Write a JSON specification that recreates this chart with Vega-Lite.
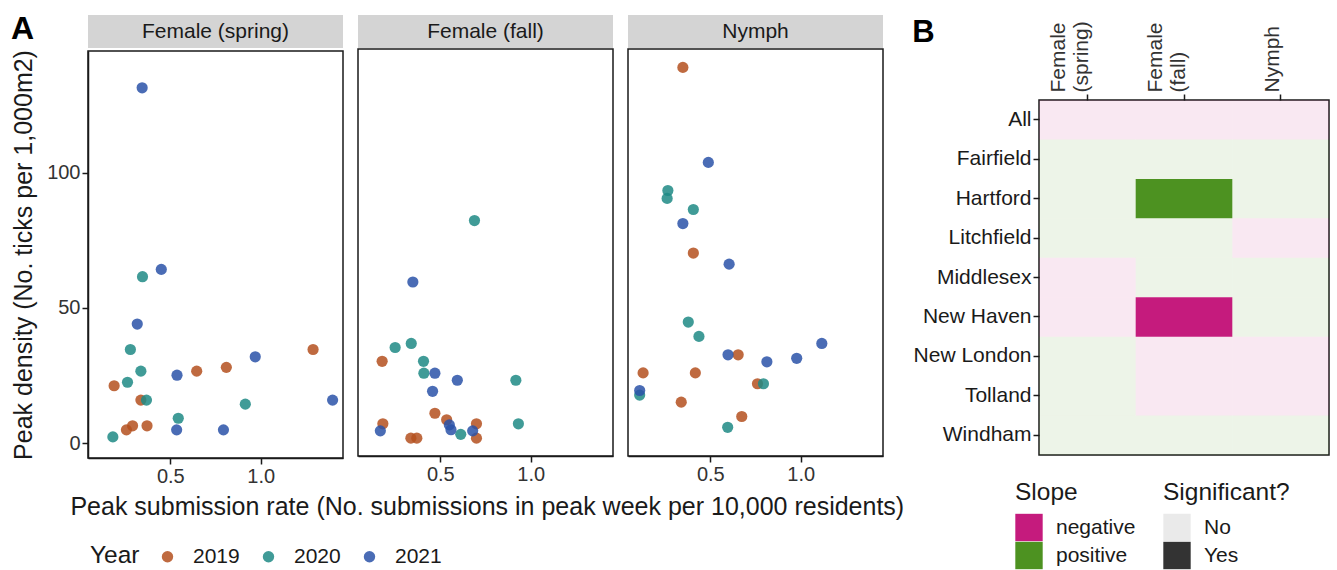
{
  "$schema": "https://vega.github.io/schema/vega-lite/v6.json",
  "background": "white",
  "padding": {"left": 10, "top": 13, "right": 4, "bottom": 0},
  "config": {
    "font": "Liberation Sans",
    "view": {"stroke": "#1a1a1a", "strokeWidth": 1.5},
    "axis": {
      "labelFont": "Liberation Sans", "labelFontSize": 20, "labelColor": "#333333",
      "titleFont": "Liberation Sans", "titleFontSize": 25, "titleFontWeight": "normal", "titleColor": "#1a1a1a",
      "domainColor": "#1a1a1a", "domainWidth": 1.5, "tickColor": "#1a1a1a", "tickWidth": 1.5, "tickSize": 6, "grid": false, "labelPadding": 2
    },
    "legend": {
      "labelFont": "Liberation Sans", "labelFontSize": 21, "labelColor": "#1a1a1a",
      "titleFont": "Liberation Sans", "titleFontSize": 24.5, "titleFontWeight": "normal", "titleColor": "#1a1a1a"
    },
    "title": {"font": "Liberation Sans", "color": "#000000"}
  },
  "datasets": {
    "pts": [
      {"stage": "Female (spring)", "year": "2019", "rate": 1.29, "density": 34.6},
      {"stage": "Female (spring)", "year": "2019", "rate": 0.81, "density": 28.0},
      {"stage": "Female (spring)", "year": "2019", "rate": 0.646, "density": 26.6},
      {"stage": "Female (spring)", "year": "2019", "rate": 0.189, "density": 21.2},
      {"stage": "Female (spring)", "year": "2019", "rate": 0.337, "density": 15.9},
      {"stage": "Female (spring)", "year": "2019", "rate": 0.291, "density": 6.4},
      {"stage": "Female (spring)", "year": "2019", "rate": 0.371, "density": 6.4},
      {"stage": "Female (spring)", "year": "2019", "rate": 0.257, "density": 4.9},
      {"stage": "Female (spring)", "year": "2020", "rate": 0.346, "density": 61.5},
      {"stage": "Female (spring)", "year": "2020", "rate": 0.279, "density": 34.6},
      {"stage": "Female (spring)", "year": "2020", "rate": 0.337, "density": 26.6},
      {"stage": "Female (spring)", "year": "2020", "rate": 0.263, "density": 22.5},
      {"stage": "Female (spring)", "year": "2020", "rate": 0.368, "density": 15.9},
      {"stage": "Female (spring)", "year": "2020", "rate": 0.915, "density": 14.4},
      {"stage": "Female (spring)", "year": "2020", "rate": 0.544, "density": 9.2},
      {"stage": "Female (spring)", "year": "2020", "rate": 0.182, "density": 2.3},
      {"stage": "Female (spring)", "year": "2021", "rate": 0.344, "density": 131.3},
      {"stage": "Female (spring)", "year": "2021", "rate": 0.45, "density": 64.2},
      {"stage": "Female (spring)", "year": "2021", "rate": 0.317, "density": 44.0},
      {"stage": "Female (spring)", "year": "2021", "rate": 0.97, "density": 31.9},
      {"stage": "Female (spring)", "year": "2021", "rate": 0.537, "density": 25.1},
      {"stage": "Female (spring)", "year": "2021", "rate": 1.398, "density": 15.9},
      {"stage": "Female (spring)", "year": "2021", "rate": 0.535, "density": 4.9},
      {"stage": "Female (spring)", "year": "2021", "rate": 0.794, "density": 4.9},
      {"stage": "Female (fall)", "year": "2019", "rate": 0.178, "density": 29.5},
      {"stage": "Female (fall)", "year": "2019", "rate": 0.47, "density": 10.3},
      {"stage": "Female (fall)", "year": "2019", "rate": 0.535, "density": 7.9},
      {"stage": "Female (fall)", "year": "2019", "rate": 0.182, "density": 6.4},
      {"stage": "Female (fall)", "year": "2019", "rate": 0.70, "density": 6.4},
      {"stage": "Female (fall)", "year": "2019", "rate": 0.337, "density": 1.1},
      {"stage": "Female (fall)", "year": "2019", "rate": 0.37, "density": 1.1},
      {"stage": "Female (fall)", "year": "2019", "rate": 0.70, "density": 1.1},
      {"stage": "Female (fall)", "year": "2020", "rate": 0.689, "density": 81.5},
      {"stage": "Female (fall)", "year": "2020", "rate": 0.339, "density": 36.1},
      {"stage": "Female (fall)", "year": "2020", "rate": 0.25, "density": 34.6},
      {"stage": "Female (fall)", "year": "2020", "rate": 0.407, "density": 29.5},
      {"stage": "Female (fall)", "year": "2020", "rate": 0.409, "density": 25.1},
      {"stage": "Female (fall)", "year": "2020", "rate": 0.918, "density": 22.5},
      {"stage": "Female (fall)", "year": "2020", "rate": 0.932, "density": 6.4},
      {"stage": "Female (fall)", "year": "2020", "rate": 0.613, "density": 2.5},
      {"stage": "Female (fall)", "year": "2021", "rate": 0.348, "density": 58.8},
      {"stage": "Female (fall)", "year": "2021", "rate": 0.47, "density": 25.1},
      {"stage": "Female (fall)", "year": "2021", "rate": 0.594, "density": 22.5},
      {"stage": "Female (fall)", "year": "2021", "rate": 0.457, "density": 18.4},
      {"stage": "Female (fall)", "year": "2021", "rate": 0.55, "density": 6.0},
      {"stage": "Female (fall)", "year": "2021", "rate": 0.559, "density": 4.2},
      {"stage": "Female (fall)", "year": "2021", "rate": 0.168, "density": 3.8},
      {"stage": "Female (fall)", "year": "2021", "rate": 0.679, "density": 3.8},
      {"stage": "Nymph", "year": "2019", "rate": 0.348, "density": 138.1},
      {"stage": "Nymph", "year": "2019", "rate": 0.406, "density": 69.5},
      {"stage": "Nymph", "year": "2019", "rate": 0.654, "density": 31.9},
      {"stage": "Nymph", "year": "2019", "rate": 0.128, "density": 25.2},
      {"stage": "Nymph", "year": "2019", "rate": 0.417, "density": 25.2},
      {"stage": "Nymph", "year": "2019", "rate": 0.761, "density": 21.2},
      {"stage": "Nymph", "year": "2019", "rate": 0.339, "density": 14.4},
      {"stage": "Nymph", "year": "2019", "rate": 0.674, "density": 9.1},
      {"stage": "Nymph", "year": "2020", "rate": 0.265, "density": 92.6},
      {"stage": "Nymph", "year": "2020", "rate": 0.261, "density": 89.7},
      {"stage": "Nymph", "year": "2020", "rate": 0.406, "density": 85.6},
      {"stage": "Nymph", "year": "2020", "rate": 0.378, "density": 44.0},
      {"stage": "Nymph", "year": "2020", "rate": 0.437, "density": 38.7},
      {"stage": "Nymph", "year": "2020", "rate": 0.794, "density": 21.2},
      {"stage": "Nymph", "year": "2020", "rate": 0.109, "density": 17.0},
      {"stage": "Nymph", "year": "2020", "rate": 0.596, "density": 5.1},
      {"stage": "Nymph", "year": "2021", "rate": 0.489, "density": 103.0},
      {"stage": "Nymph", "year": "2021", "rate": 0.348, "density": 80.4},
      {"stage": "Nymph", "year": "2021", "rate": 0.604, "density": 65.4},
      {"stage": "Nymph", "year": "2021", "rate": 1.117, "density": 36.1},
      {"stage": "Nymph", "year": "2021", "rate": 0.598, "density": 31.9},
      {"stage": "Nymph", "year": "2021", "rate": 0.978, "density": 30.6},
      {"stage": "Nymph", "year": "2021", "rate": 0.813, "density": 29.3},
      {"stage": "Nymph", "year": "2021", "rate": 0.109, "density": 18.7}
    ],
    "cells": [
      {"county": "All", "stage": "Female (spring)", "slope": "negative", "sig": "No"},
      {"county": "All", "stage": "Female (fall)", "slope": "negative", "sig": "No"},
      {"county": "All", "stage": "Nymph", "slope": "negative", "sig": "No"},
      {"county": "Fairfield", "stage": "Female (spring)", "slope": "positive", "sig": "No"},
      {"county": "Fairfield", "stage": "Female (fall)", "slope": "positive", "sig": "No"},
      {"county": "Fairfield", "stage": "Nymph", "slope": "positive", "sig": "No"},
      {"county": "Hartford", "stage": "Female (spring)", "slope": "positive", "sig": "No"},
      {"county": "Hartford", "stage": "Female (fall)", "slope": "positive", "sig": "Yes"},
      {"county": "Hartford", "stage": "Nymph", "slope": "positive", "sig": "No"},
      {"county": "Litchfield", "stage": "Female (spring)", "slope": "positive", "sig": "No"},
      {"county": "Litchfield", "stage": "Female (fall)", "slope": "positive", "sig": "No"},
      {"county": "Litchfield", "stage": "Nymph", "slope": "negative", "sig": "No"},
      {"county": "Middlesex", "stage": "Female (spring)", "slope": "negative", "sig": "No"},
      {"county": "Middlesex", "stage": "Female (fall)", "slope": "positive", "sig": "No"},
      {"county": "Middlesex", "stage": "Nymph", "slope": "positive", "sig": "No"},
      {"county": "New Haven", "stage": "Female (spring)", "slope": "negative", "sig": "No"},
      {"county": "New Haven", "stage": "Female (fall)", "slope": "negative", "sig": "Yes"},
      {"county": "New Haven", "stage": "Nymph", "slope": "positive", "sig": "No"},
      {"county": "New London", "stage": "Female (spring)", "slope": "positive", "sig": "No"},
      {"county": "New London", "stage": "Female (fall)", "slope": "negative", "sig": "No"},
      {"county": "New London", "stage": "Nymph", "slope": "negative", "sig": "No"},
      {"county": "Tolland", "stage": "Female (spring)", "slope": "positive", "sig": "No"},
      {"county": "Tolland", "stage": "Female (fall)", "slope": "negative", "sig": "No"},
      {"county": "Tolland", "stage": "Nymph", "slope": "negative", "sig": "No"},
      {"county": "Windham", "stage": "Female (spring)", "slope": "positive", "sig": "No"},
      {"county": "Windham", "stage": "Female (fall)", "slope": "positive", "sig": "No"},
      {"county": "Windham", "stage": "Nymph", "slope": "positive", "sig": "No"}
    ]
  },
  "resolve": {
    "scale": {"color": "independent", "opacity": "independent"},
    "legend": {"color": "independent", "opacity": "independent"}
  },
  "spacing": 7,
  "hconcat": [
    {
      "title": {"text": "A", "anchor": "start", "frame": "bounds", "fontSize": 32, "fontWeight": "bold", "dy": 35, "dx": 0},
      "resolve": {"scale": {"color": "shared"}, "legend": {"color": "shared"}},
      "vconcat": [
        {
          "title": {"text": "Peak submission rate (No. submissions in peak week per 10,000 residents)", "orient": "bottom", "anchor": "middle", "fontSize": 25, "fontWeight": "normal", "color": "#1a1a1a", "offset": 8, "dx": 40},
          "spacing": 13,
          "resolve": {"scale": {"color": "shared"}, "legend": {"color": "shared"}},
          "hconcat": [
            {
              "spacing": 0,
              "vconcat": [
                {
                  "width": 255, "height": 33,
                  "view": {"fill": "#D4D4D4", "stroke": null},
                  "data": {"values": [{"stage": "Female (spring)"}]},
                  "mark": {"type": "text", "fontSize": 21, "color": "#1a1a1a"},
                  "encoding": {"text": {"field": "stage"}}
                },
                {
                  "width": 255, "height": 407,
                  "data": {"name": "pts"},
                  "transform": [{"filter": "datum.stage == 'Female (spring)'"}],
                  "mark": {"type": "circle", "size": 125, "opacity": 0.85},
                  "encoding": {
                    "x": {"field": "rate", "type": "quantitative", "scale": {"domain": [0.0444, 1.4556], "nice": false, "zero": false}, "axis": {"values": [0.5, 1.0], "format": ".1f", "title": null}},
                    "y": {"field": "density", "type": "quantitative", "scale": {"domain": [-5.5, 144.9], "nice": false, "zero": false}, "axis": {"values": [0, 50, 100], "title": "Peak density (No. ticks per 1,000m2)", "titlePadding": 10}},
                    "color": {
                      "field": "year", "type": "nominal",
                      "scale": {"domain": ["2019", "2020", "2021"], "range": ["#B4501E", "#1E8A85", "#2A52A8"]},
                      "legend": {"title": "Year", "orient": "none", "direction": "horizontal", "titleOrient": "left", "titleBaseline": "middle", "legendX": 2, "legendY": 531, "symbolType": "circle", "symbolSize": 130, "symbolOpacity": 0.85, "labelOffset": 15, "columnPadding": 18, "titlePadding": 17}
                    }
                  }
                }
              ]
            },
            {
              "spacing": 0,
              "vconcat": [
                {
                  "width": 255, "height": 33,
                  "view": {"fill": "#D4D4D4", "stroke": null},
                  "data": {"values": [{"stage": "Female (fall)"}]},
                  "mark": {"type": "text", "fontSize": 21, "color": "#1a1a1a"},
                  "encoding": {"text": {"field": "stage"}}
                },
                {
                  "width": 255, "height": 407,
                  "data": {"name": "pts"},
                  "transform": [{"filter": "datum.stage == 'Female (fall)'"}],
                  "mark": {"type": "circle", "size": 125, "opacity": 0.85},
                  "encoding": {
                    "x": {"field": "rate", "type": "quantitative", "scale": {"domain": [0.0444, 1.4556], "nice": false, "zero": false}, "axis": {"values": [0.5, 1.0], "format": ".1f", "title": null}},
                    "y": {"field": "density", "type": "quantitative", "scale": {"domain": [-5.5, 144.9], "nice": false, "zero": false}, "axis": null},
                    "color": {"field": "year", "type": "nominal", "scale": {"domain": ["2019", "2020", "2021"], "range": ["#B4501E", "#1E8A85", "#2A52A8"]}}
                  }
                }
              ]
            },
            {
              "spacing": 0,
              "vconcat": [
                {
                  "width": 255, "height": 33,
                  "view": {"fill": "#D4D4D4", "stroke": null},
                  "data": {"values": [{"stage": "Nymph"}]},
                  "mark": {"type": "text", "fontSize": 21, "color": "#1a1a1a"},
                  "encoding": {"text": {"field": "stage"}}
                },
                {
                  "width": 255, "height": 407,
                  "data": {"name": "pts"},
                  "transform": [{"filter": "datum.stage == 'Nymph'"}],
                  "mark": {"type": "circle", "size": 125, "opacity": 0.85},
                  "encoding": {
                    "x": {"field": "rate", "type": "quantitative", "scale": {"domain": [0.0444, 1.4556], "nice": false, "zero": false}, "axis": {"values": [0.5, 1.0], "format": ".1f", "title": null}},
                    "y": {"field": "density", "type": "quantitative", "scale": {"domain": [-5.5, 144.9], "nice": false, "zero": false}, "axis": null},
                    "color": {"field": "year", "type": "nominal", "scale": {"domain": ["2019", "2020", "2021"], "range": ["#B4501E", "#1E8A85", "#2A52A8"]}}
                  }
                }
              ]
            }
          ]
        }
      ]
    },
    {
      "title": {"text": "B", "anchor": "start", "frame": "bounds", "fontSize": 31, "fontWeight": "bold", "dy": 38},
      "spacing": 4,
      "vconcat": [
        {
          "width": 290, "height": 1,
          "view": {"stroke": null},
          "data": {"values": []},
          "mark": {"type": "point"},
          "encoding": {}
        },
        {
          "width": 290, "height": 355,
          "data": {"name": "cells"},
          "mark": {"type": "rect"},
          "encoding": {
            "x": {
              "field": "stage", "type": "nominal", "sort": ["Female (spring)", "Female (fall)", "Nymph"],
              "axis": {
                "orient": "top", "title": null, "labelAngle": 270, "labelAlign": "left", "labelBaseline": "bottom",
                "labelExpr": "split(datum.label, ' ')", "labelFontSize": 21, "labelColor": "#333333", "domain": false, "labelLineHeight": 23,
                "labelOffset": {"condition": {"test": "datum.value == 'Nymph'", "value": 2}, "value": -18}
              }
            },
            "y": {
              "field": "county", "type": "nominal",
              "sort": ["All", "Fairfield", "Hartford", "Litchfield", "Middlesex", "New Haven", "New London", "Tolland", "Windham"],
              "axis": {"title": null, "labelFontSize": 21, "labelColor": "#1a1a1a", "domain": false}
            },
            "color": {
              "field": "slope", "type": "nominal",
              "scale": {"domain": ["negative", "positive"], "range": ["#C51B7D", "#4D9221"]},
              "legend": {"title": "Slope", "orient": "none", "legendX": -24, "legendY": 466, "symbolType": "square", "symbolSize": 750, "symbolStrokeWidth": 0, "rowPadding": 0, "labelOffset": 13, "titlePadding": 8}
            },
            "opacity": {
              "field": "sig", "type": "nominal",
              "scale": {"domain": ["No", "Yes"], "range": [0.1, 1]},
              "legend": {"title": "Significant?", "orient": "none", "legendX": 124, "legendY": 466, "symbolType": "square", "symbolSize": 750, "symbolStrokeWidth": 0, "symbolFillColor": "#333333", "rowPadding": 0, "labelOffset": 13, "titlePadding": 8}
            }
          }
        }
      ]
    }
  ]
}
